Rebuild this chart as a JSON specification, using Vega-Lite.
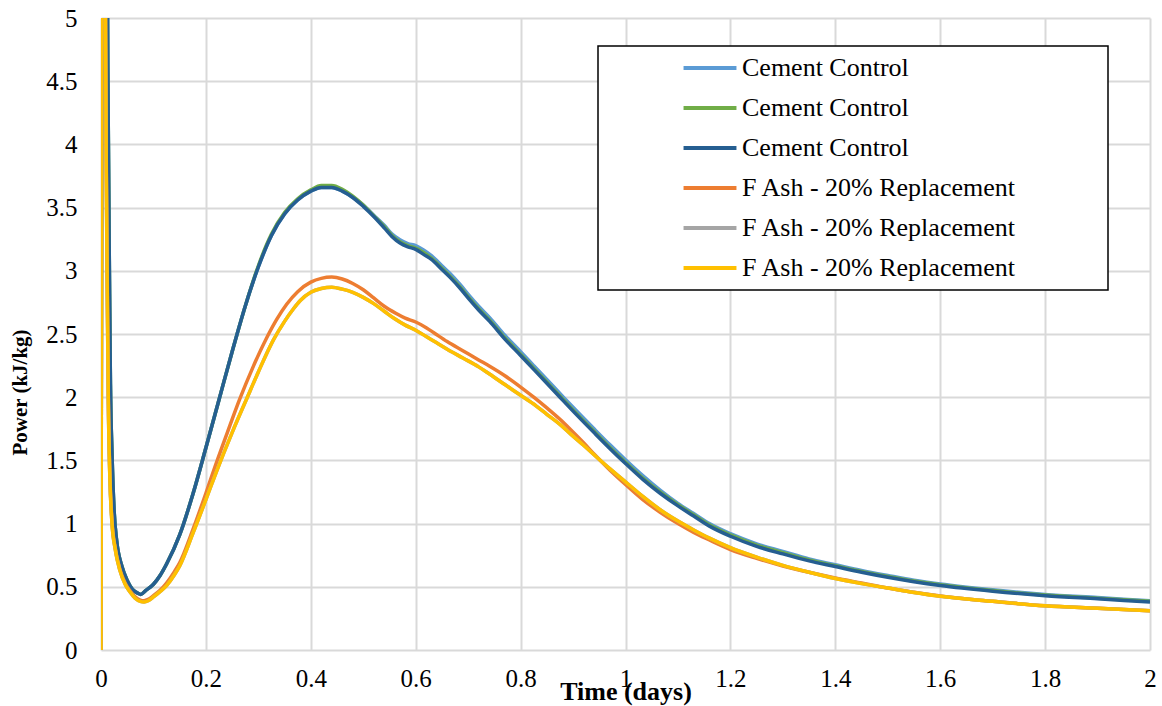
{
  "$schema": "https://vega.github.io/schema/vega-lite/v6.json",
  "width": 1049,
  "height": 632,
  "autosize": {"type": "none"},
  "padding": {"left": 101, "top": 18, "right": 12, "bottom": 56},
  "background": "white",
  "config": {
    "view": {"stroke": null},
    "font": "Liberation Serif",
    "axis": {
      "labelFont": "Liberation Serif",
      "labelFontSize": 25,
      "labelColor": "black",
      "titleFont": "Liberation Serif",
      "titleFontSize": 26,
      "titleFontWeight": "bold",
      "titleColor": "black",
      "gridColor": "#d9d9d9",
      "gridWidth": 2,
      "ticks": false,
      "tickSize": 0,
      "domain": false
    },
    "legend": {"strokeWidth": 1.5}
  },
  "data": {
    "values": [
      {"series": "Cement Control 1", "t": 0, "p": 0},
      {"series": "Cement Control 1", "t": 0.002, "p": 7},
      {"series": "Cement Control 1", "t": 0.006, "p": 9},
      {"series": "Cement Control 1", "t": 0.01, "p": 7},
      {"series": "Cement Control 1", "t": 0.013, "p": 4.6},
      {"series": "Cement Control 1", "t": 0.016, "p": 3.0},
      {"series": "Cement Control 1", "t": 0.018, "p": 2.1},
      {"series": "Cement Control 1", "t": 0.021, "p": 1.55},
      {"series": "Cement Control 1", "t": 0.025, "p": 1.1},
      {"series": "Cement Control 1", "t": 0.03, "p": 0.86},
      {"series": "Cement Control 1", "t": 0.04, "p": 0.66},
      {"series": "Cement Control 1", "t": 0.05, "p": 0.55},
      {"series": "Cement Control 1", "t": 0.06, "p": 0.48},
      {"series": "Cement Control 1", "t": 0.07, "p": 0.45},
      {"series": "Cement Control 1", "t": 0.076, "p": 0.44},
      {"series": "Cement Control 1", "t": 0.085, "p": 0.47},
      {"series": "Cement Control 1", "t": 0.1, "p": 0.52},
      {"series": "Cement Control 1", "t": 0.112, "p": 0.585},
      {"series": "Cement Control 1", "t": 0.125, "p": 0.68},
      {"series": "Cement Control 1", "t": 0.15, "p": 0.91},
      {"series": "Cement Control 1", "t": 0.175, "p": 1.23},
      {"series": "Cement Control 1", "t": 0.2, "p": 1.6},
      {"series": "Cement Control 1", "t": 0.225, "p": 1.98},
      {"series": "Cement Control 1", "t": 0.25, "p": 2.36},
      {"series": "Cement Control 1", "t": 0.275, "p": 2.72},
      {"series": "Cement Control 1", "t": 0.3, "p": 3.03},
      {"series": "Cement Control 1", "t": 0.325, "p": 3.28},
      {"series": "Cement Control 1", "t": 0.35, "p": 3.45},
      {"series": "Cement Control 1", "t": 0.375, "p": 3.56},
      {"series": "Cement Control 1", "t": 0.4, "p": 3.63},
      {"series": "Cement Control 1", "t": 0.42, "p": 3.66},
      {"series": "Cement Control 1", "t": 0.44, "p": 3.66},
      {"series": "Cement Control 1", "t": 0.46, "p": 3.63},
      {"series": "Cement Control 1", "t": 0.48, "p": 3.58},
      {"series": "Cement Control 1", "t": 0.5, "p": 3.52},
      {"series": "Cement Control 1", "t": 0.52, "p": 3.44},
      {"series": "Cement Control 1", "t": 0.54, "p": 3.36},
      {"series": "Cement Control 1", "t": 0.555, "p": 3.29},
      {"series": "Cement Control 1", "t": 0.57, "p": 3.245},
      {"series": "Cement Control 1", "t": 0.585, "p": 3.215},
      {"series": "Cement Control 1", "t": 0.6, "p": 3.2},
      {"series": "Cement Control 1", "t": 0.615, "p": 3.165},
      {"series": "Cement Control 1", "t": 0.63, "p": 3.12},
      {"series": "Cement Control 1", "t": 0.65, "p": 3.04},
      {"series": "Cement Control 1", "t": 0.665, "p": 2.98},
      {"series": "Cement Control 1", "t": 0.685, "p": 2.89},
      {"series": "Cement Control 1", "t": 0.703, "p": 2.8},
      {"series": "Cement Control 1", "t": 0.72, "p": 2.72},
      {"series": "Cement Control 1", "t": 0.741, "p": 2.63},
      {"series": "Cement Control 1", "t": 0.77, "p": 2.49},
      {"series": "Cement Control 1", "t": 0.8, "p": 2.36},
      {"series": "Cement Control 1", "t": 0.825, "p": 2.25},
      {"series": "Cement Control 1", "t": 0.85, "p": 2.14},
      {"series": "Cement Control 1", "t": 0.875, "p": 2.03},
      {"series": "Cement Control 1", "t": 0.9, "p": 1.92},
      {"series": "Cement Control 1", "t": 0.94, "p": 1.75},
      {"series": "Cement Control 1", "t": 0.97, "p": 1.625},
      {"series": "Cement Control 1", "t": 1.0, "p": 1.505},
      {"series": "Cement Control 1", "t": 1.033, "p": 1.38},
      {"series": "Cement Control 1", "t": 1.066, "p": 1.265},
      {"series": "Cement Control 1", "t": 1.1, "p": 1.16},
      {"series": "Cement Control 1", "t": 1.13, "p": 1.08},
      {"series": "Cement Control 1", "t": 1.16, "p": 1.0},
      {"series": "Cement Control 1", "t": 1.2, "p": 0.92},
      {"series": "Cement Control 1", "t": 1.25, "p": 0.84},
      {"series": "Cement Control 1", "t": 1.3, "p": 0.78},
      {"series": "Cement Control 1", "t": 1.35, "p": 0.72},
      {"series": "Cement Control 1", "t": 1.4, "p": 0.675},
      {"series": "Cement Control 1", "t": 1.45, "p": 0.63},
      {"series": "Cement Control 1", "t": 1.5, "p": 0.59},
      {"series": "Cement Control 1", "t": 1.55, "p": 0.552},
      {"series": "Cement Control 1", "t": 1.6, "p": 0.522},
      {"series": "Cement Control 1", "t": 1.7, "p": 0.476},
      {"series": "Cement Control 1", "t": 1.8, "p": 0.44},
      {"series": "Cement Control 1", "t": 1.9, "p": 0.415},
      {"series": "Cement Control 1", "t": 2.0, "p": 0.39},

      {"series": "Cement Control 2", "t": 0, "p": 0},
      {"series": "Cement Control 2", "t": 0.002, "p": 7},
      {"series": "Cement Control 2", "t": 0.006, "p": 9},
      {"series": "Cement Control 2", "t": 0.01, "p": 7},
      {"series": "Cement Control 2", "t": 0.013, "p": 4.6},
      {"series": "Cement Control 2", "t": 0.016, "p": 3.0},
      {"series": "Cement Control 2", "t": 0.018, "p": 2.1},
      {"series": "Cement Control 2", "t": 0.021, "p": 1.55},
      {"series": "Cement Control 2", "t": 0.025, "p": 1.1},
      {"series": "Cement Control 2", "t": 0.03, "p": 0.86},
      {"series": "Cement Control 2", "t": 0.04, "p": 0.66},
      {"series": "Cement Control 2", "t": 0.05, "p": 0.55},
      {"series": "Cement Control 2", "t": 0.06, "p": 0.48},
      {"series": "Cement Control 2", "t": 0.07, "p": 0.45},
      {"series": "Cement Control 2", "t": 0.076, "p": 0.44},
      {"series": "Cement Control 2", "t": 0.085, "p": 0.47},
      {"series": "Cement Control 2", "t": 0.1, "p": 0.52},
      {"series": "Cement Control 2", "t": 0.112, "p": 0.585},
      {"series": "Cement Control 2", "t": 0.125, "p": 0.68},
      {"series": "Cement Control 2", "t": 0.15, "p": 0.91},
      {"series": "Cement Control 2", "t": 0.175, "p": 1.23},
      {"series": "Cement Control 2", "t": 0.2, "p": 1.6},
      {"series": "Cement Control 2", "t": 0.225, "p": 1.98},
      {"series": "Cement Control 2", "t": 0.25, "p": 2.36},
      {"series": "Cement Control 2", "t": 0.275, "p": 2.72},
      {"series": "Cement Control 2", "t": 0.3, "p": 3.04},
      {"series": "Cement Control 2", "t": 0.325, "p": 3.29},
      {"series": "Cement Control 2", "t": 0.35, "p": 3.46},
      {"series": "Cement Control 2", "t": 0.375, "p": 3.57},
      {"series": "Cement Control 2", "t": 0.4, "p": 3.64},
      {"series": "Cement Control 2", "t": 0.42, "p": 3.675},
      {"series": "Cement Control 2", "t": 0.44, "p": 3.675},
      {"series": "Cement Control 2", "t": 0.46, "p": 3.645},
      {"series": "Cement Control 2", "t": 0.48, "p": 3.59},
      {"series": "Cement Control 2", "t": 0.5, "p": 3.52},
      {"series": "Cement Control 2", "t": 0.52, "p": 3.435},
      {"series": "Cement Control 2", "t": 0.54, "p": 3.35},
      {"series": "Cement Control 2", "t": 0.555, "p": 3.28},
      {"series": "Cement Control 2", "t": 0.57, "p": 3.23},
      {"series": "Cement Control 2", "t": 0.585, "p": 3.2},
      {"series": "Cement Control 2", "t": 0.6, "p": 3.18},
      {"series": "Cement Control 2", "t": 0.615, "p": 3.145},
      {"series": "Cement Control 2", "t": 0.63, "p": 3.1},
      {"series": "Cement Control 2", "t": 0.65, "p": 3.02},
      {"series": "Cement Control 2", "t": 0.665, "p": 2.96},
      {"series": "Cement Control 2", "t": 0.685, "p": 2.87},
      {"series": "Cement Control 2", "t": 0.703, "p": 2.78},
      {"series": "Cement Control 2", "t": 0.72, "p": 2.7},
      {"series": "Cement Control 2", "t": 0.741, "p": 2.61},
      {"series": "Cement Control 2", "t": 0.77, "p": 2.47},
      {"series": "Cement Control 2", "t": 0.8, "p": 2.34},
      {"series": "Cement Control 2", "t": 0.825, "p": 2.23},
      {"series": "Cement Control 2", "t": 0.85, "p": 2.12},
      {"series": "Cement Control 2", "t": 0.875, "p": 2.01},
      {"series": "Cement Control 2", "t": 0.9, "p": 1.9},
      {"series": "Cement Control 2", "t": 0.94, "p": 1.73},
      {"series": "Cement Control 2", "t": 0.97, "p": 1.605},
      {"series": "Cement Control 2", "t": 1.0, "p": 1.485},
      {"series": "Cement Control 2", "t": 1.033, "p": 1.36},
      {"series": "Cement Control 2", "t": 1.066, "p": 1.25},
      {"series": "Cement Control 2", "t": 1.1, "p": 1.15},
      {"series": "Cement Control 2", "t": 1.13, "p": 1.07},
      {"series": "Cement Control 2", "t": 1.16, "p": 0.99},
      {"series": "Cement Control 2", "t": 1.2, "p": 0.91},
      {"series": "Cement Control 2", "t": 1.25, "p": 0.83},
      {"series": "Cement Control 2", "t": 1.3, "p": 0.77},
      {"series": "Cement Control 2", "t": 1.35, "p": 0.712},
      {"series": "Cement Control 2", "t": 1.4, "p": 0.667},
      {"series": "Cement Control 2", "t": 1.45, "p": 0.622},
      {"series": "Cement Control 2", "t": 1.5, "p": 0.582},
      {"series": "Cement Control 2", "t": 1.55, "p": 0.546},
      {"series": "Cement Control 2", "t": 1.6, "p": 0.516},
      {"series": "Cement Control 2", "t": 1.7, "p": 0.47},
      {"series": "Cement Control 2", "t": 1.8, "p": 0.435},
      {"series": "Cement Control 2", "t": 1.9, "p": 0.41},
      {"series": "Cement Control 2", "t": 2.0, "p": 0.385},

      {"series": "Cement Control 3", "t": 0, "p": 0},
      {"series": "Cement Control 3", "t": 0.002, "p": 7},
      {"series": "Cement Control 3", "t": 0.006, "p": 9},
      {"series": "Cement Control 3", "t": 0.01, "p": 7},
      {"series": "Cement Control 3", "t": 0.013, "p": 4.6},
      {"series": "Cement Control 3", "t": 0.016, "p": 3.0},
      {"series": "Cement Control 3", "t": 0.018, "p": 2.1},
      {"series": "Cement Control 3", "t": 0.021, "p": 1.55},
      {"series": "Cement Control 3", "t": 0.025, "p": 1.1},
      {"series": "Cement Control 3", "t": 0.03, "p": 0.86},
      {"series": "Cement Control 3", "t": 0.04, "p": 0.66},
      {"series": "Cement Control 3", "t": 0.05, "p": 0.55},
      {"series": "Cement Control 3", "t": 0.06, "p": 0.48},
      {"series": "Cement Control 3", "t": 0.07, "p": 0.45},
      {"series": "Cement Control 3", "t": 0.076, "p": 0.44},
      {"series": "Cement Control 3", "t": 0.085, "p": 0.47},
      {"series": "Cement Control 3", "t": 0.1, "p": 0.52},
      {"series": "Cement Control 3", "t": 0.112, "p": 0.585},
      {"series": "Cement Control 3", "t": 0.125, "p": 0.68},
      {"series": "Cement Control 3", "t": 0.15, "p": 0.91},
      {"series": "Cement Control 3", "t": 0.175, "p": 1.23},
      {"series": "Cement Control 3", "t": 0.2, "p": 1.6},
      {"series": "Cement Control 3", "t": 0.225, "p": 1.98},
      {"series": "Cement Control 3", "t": 0.25, "p": 2.36},
      {"series": "Cement Control 3", "t": 0.275, "p": 2.72},
      {"series": "Cement Control 3", "t": 0.3, "p": 3.03},
      {"series": "Cement Control 3", "t": 0.325, "p": 3.28},
      {"series": "Cement Control 3", "t": 0.35, "p": 3.45},
      {"series": "Cement Control 3", "t": 0.375, "p": 3.56},
      {"series": "Cement Control 3", "t": 0.4, "p": 3.63},
      {"series": "Cement Control 3", "t": 0.42, "p": 3.66},
      {"series": "Cement Control 3", "t": 0.44, "p": 3.66},
      {"series": "Cement Control 3", "t": 0.46, "p": 3.63},
      {"series": "Cement Control 3", "t": 0.48, "p": 3.58},
      {"series": "Cement Control 3", "t": 0.5, "p": 3.51},
      {"series": "Cement Control 3", "t": 0.52, "p": 3.43},
      {"series": "Cement Control 3", "t": 0.54, "p": 3.34},
      {"series": "Cement Control 3", "t": 0.555, "p": 3.27},
      {"series": "Cement Control 3", "t": 0.57, "p": 3.22},
      {"series": "Cement Control 3", "t": 0.585, "p": 3.19},
      {"series": "Cement Control 3", "t": 0.6, "p": 3.17},
      {"series": "Cement Control 3", "t": 0.615, "p": 3.13},
      {"series": "Cement Control 3", "t": 0.63, "p": 3.09},
      {"series": "Cement Control 3", "t": 0.65, "p": 3.01},
      {"series": "Cement Control 3", "t": 0.665, "p": 2.95},
      {"series": "Cement Control 3", "t": 0.685, "p": 2.86},
      {"series": "Cement Control 3", "t": 0.703, "p": 2.77},
      {"series": "Cement Control 3", "t": 0.72, "p": 2.69},
      {"series": "Cement Control 3", "t": 0.741, "p": 2.6},
      {"series": "Cement Control 3", "t": 0.77, "p": 2.46},
      {"series": "Cement Control 3", "t": 0.8, "p": 2.33},
      {"series": "Cement Control 3", "t": 0.825, "p": 2.22},
      {"series": "Cement Control 3", "t": 0.85, "p": 2.11},
      {"series": "Cement Control 3", "t": 0.875, "p": 2.0},
      {"series": "Cement Control 3", "t": 0.9, "p": 1.89},
      {"series": "Cement Control 3", "t": 0.94, "p": 1.72},
      {"series": "Cement Control 3", "t": 0.97, "p": 1.595},
      {"series": "Cement Control 3", "t": 1.0, "p": 1.475},
      {"series": "Cement Control 3", "t": 1.033, "p": 1.35},
      {"series": "Cement Control 3", "t": 1.066, "p": 1.24},
      {"series": "Cement Control 3", "t": 1.1, "p": 1.14},
      {"series": "Cement Control 3", "t": 1.13, "p": 1.06},
      {"series": "Cement Control 3", "t": 1.16, "p": 0.98},
      {"series": "Cement Control 3", "t": 1.2, "p": 0.9},
      {"series": "Cement Control 3", "t": 1.25, "p": 0.82},
      {"series": "Cement Control 3", "t": 1.3, "p": 0.76},
      {"series": "Cement Control 3", "t": 1.35, "p": 0.705},
      {"series": "Cement Control 3", "t": 1.4, "p": 0.66},
      {"series": "Cement Control 3", "t": 1.45, "p": 0.615},
      {"series": "Cement Control 3", "t": 1.5, "p": 0.575},
      {"series": "Cement Control 3", "t": 1.55, "p": 0.54},
      {"series": "Cement Control 3", "t": 1.6, "p": 0.51},
      {"series": "Cement Control 3", "t": 1.7, "p": 0.465},
      {"series": "Cement Control 3", "t": 1.8, "p": 0.43},
      {"series": "Cement Control 3", "t": 1.9, "p": 0.405},
      {"series": "Cement Control 3", "t": 2.0, "p": 0.38},

      {"series": "F Ash - 20% Replacement 1", "t": 0, "p": 0},
      {"series": "F Ash - 20% Replacement 1", "t": 0.002, "p": 7},
      {"series": "F Ash - 20% Replacement 1", "t": 0.005, "p": 8},
      {"series": "F Ash - 20% Replacement 1", "t": 0.008, "p": 5.5},
      {"series": "F Ash - 20% Replacement 1", "t": 0.01, "p": 3.9},
      {"series": "F Ash - 20% Replacement 1", "t": 0.012, "p": 2.9},
      {"series": "F Ash - 20% Replacement 1", "t": 0.014, "p": 2.0},
      {"series": "F Ash - 20% Replacement 1", "t": 0.017, "p": 1.38},
      {"series": "F Ash - 20% Replacement 1", "t": 0.021, "p": 1.02},
      {"series": "F Ash - 20% Replacement 1", "t": 0.027, "p": 0.81},
      {"series": "F Ash - 20% Replacement 1", "t": 0.036, "p": 0.64},
      {"series": "F Ash - 20% Replacement 1", "t": 0.046, "p": 0.53},
      {"series": "F Ash - 20% Replacement 1", "t": 0.055, "p": 0.47},
      {"series": "F Ash - 20% Replacement 1", "t": 0.065, "p": 0.42},
      {"series": "F Ash - 20% Replacement 1", "t": 0.075, "p": 0.395},
      {"series": "F Ash - 20% Replacement 1", "t": 0.082, "p": 0.39},
      {"series": "F Ash - 20% Replacement 1", "t": 0.09, "p": 0.4},
      {"series": "F Ash - 20% Replacement 1", "t": 0.1, "p": 0.43},
      {"series": "F Ash - 20% Replacement 1", "t": 0.112, "p": 0.47},
      {"series": "F Ash - 20% Replacement 1", "t": 0.125, "p": 0.53},
      {"series": "F Ash - 20% Replacement 1", "t": 0.14, "p": 0.62},
      {"series": "F Ash - 20% Replacement 1", "t": 0.15, "p": 0.69},
      {"series": "F Ash - 20% Replacement 1", "t": 0.175, "p": 0.95},
      {"series": "F Ash - 20% Replacement 1", "t": 0.2, "p": 1.24},
      {"series": "F Ash - 20% Replacement 1", "t": 0.214, "p": 1.41},
      {"series": "F Ash - 20% Replacement 1", "t": 0.24, "p": 1.71},
      {"series": "F Ash - 20% Replacement 1", "t": 0.265, "p": 1.99},
      {"series": "F Ash - 20% Replacement 1", "t": 0.29, "p": 2.24},
      {"series": "F Ash - 20% Replacement 1", "t": 0.316, "p": 2.47},
      {"series": "F Ash - 20% Replacement 1", "t": 0.335, "p": 2.615},
      {"series": "F Ash - 20% Replacement 1", "t": 0.354, "p": 2.735},
      {"series": "F Ash - 20% Replacement 1", "t": 0.375, "p": 2.835},
      {"series": "F Ash - 20% Replacement 1", "t": 0.4, "p": 2.91},
      {"series": "F Ash - 20% Replacement 1", "t": 0.42, "p": 2.94},
      {"series": "F Ash - 20% Replacement 1", "t": 0.44, "p": 2.95},
      {"series": "F Ash - 20% Replacement 1", "t": 0.46, "p": 2.935},
      {"series": "F Ash - 20% Replacement 1", "t": 0.48, "p": 2.9},
      {"series": "F Ash - 20% Replacement 1", "t": 0.5, "p": 2.85},
      {"series": "F Ash - 20% Replacement 1", "t": 0.52, "p": 2.785},
      {"series": "F Ash - 20% Replacement 1", "t": 0.54, "p": 2.72},
      {"series": "F Ash - 20% Replacement 1", "t": 0.564, "p": 2.66},
      {"series": "F Ash - 20% Replacement 1", "t": 0.58, "p": 2.625},
      {"series": "F Ash - 20% Replacement 1", "t": 0.6, "p": 2.595},
      {"series": "F Ash - 20% Replacement 1", "t": 0.62, "p": 2.55},
      {"series": "F Ash - 20% Replacement 1", "t": 0.638, "p": 2.5},
      {"series": "F Ash - 20% Replacement 1", "t": 0.66, "p": 2.44},
      {"series": "F Ash - 20% Replacement 1", "t": 0.689, "p": 2.37},
      {"series": "F Ash - 20% Replacement 1", "t": 0.72, "p": 2.295},
      {"series": "F Ash - 20% Replacement 1", "t": 0.741, "p": 2.245},
      {"series": "F Ash - 20% Replacement 1", "t": 0.77, "p": 2.17},
      {"series": "F Ash - 20% Replacement 1", "t": 0.8, "p": 2.08},
      {"series": "F Ash - 20% Replacement 1", "t": 0.825, "p": 2.0},
      {"series": "F Ash - 20% Replacement 1", "t": 0.85, "p": 1.915},
      {"series": "F Ash - 20% Replacement 1", "t": 0.875, "p": 1.825},
      {"series": "F Ash - 20% Replacement 1", "t": 0.895, "p": 1.745},
      {"series": "F Ash - 20% Replacement 1", "t": 0.92, "p": 1.64},
      {"series": "F Ash - 20% Replacement 1", "t": 0.94, "p": 1.55},
      {"series": "F Ash - 20% Replacement 1", "t": 0.97, "p": 1.425},
      {"series": "F Ash - 20% Replacement 1", "t": 1.0, "p": 1.31},
      {"series": "F Ash - 20% Replacement 1", "t": 1.033, "p": 1.19},
      {"series": "F Ash - 20% Replacement 1", "t": 1.066, "p": 1.09},
      {"series": "F Ash - 20% Replacement 1", "t": 1.1, "p": 1.0},
      {"series": "F Ash - 20% Replacement 1", "t": 1.13, "p": 0.93},
      {"series": "F Ash - 20% Replacement 1", "t": 1.16, "p": 0.87},
      {"series": "F Ash - 20% Replacement 1", "t": 1.2, "p": 0.795},
      {"series": "F Ash - 20% Replacement 1", "t": 1.25, "p": 0.725},
      {"series": "F Ash - 20% Replacement 1", "t": 1.3, "p": 0.665},
      {"series": "F Ash - 20% Replacement 1", "t": 1.35, "p": 0.615},
      {"series": "F Ash - 20% Replacement 1", "t": 1.4, "p": 0.57},
      {"series": "F Ash - 20% Replacement 1", "t": 1.45, "p": 0.53},
      {"series": "F Ash - 20% Replacement 1", "t": 1.5, "p": 0.49},
      {"series": "F Ash - 20% Replacement 1", "t": 1.55, "p": 0.457},
      {"series": "F Ash - 20% Replacement 1", "t": 1.6, "p": 0.427},
      {"series": "F Ash - 20% Replacement 1", "t": 1.7, "p": 0.385},
      {"series": "F Ash - 20% Replacement 1", "t": 1.8, "p": 0.35},
      {"series": "F Ash - 20% Replacement 1", "t": 1.9, "p": 0.33},
      {"series": "F Ash - 20% Replacement 1", "t": 2.0, "p": 0.31},

      {"series": "F Ash - 20% Replacement 2", "t": 0, "p": 0},
      {"series": "F Ash - 20% Replacement 2", "t": 0.002, "p": 7},
      {"series": "F Ash - 20% Replacement 2", "t": 0.005, "p": 8},
      {"series": "F Ash - 20% Replacement 2", "t": 0.008, "p": 5.5},
      {"series": "F Ash - 20% Replacement 2", "t": 0.01, "p": 3.8},
      {"series": "F Ash - 20% Replacement 2", "t": 0.012, "p": 2.8},
      {"series": "F Ash - 20% Replacement 2", "t": 0.014, "p": 1.95},
      {"series": "F Ash - 20% Replacement 2", "t": 0.017, "p": 1.35},
      {"series": "F Ash - 20% Replacement 2", "t": 0.021, "p": 1.0},
      {"series": "F Ash - 20% Replacement 2", "t": 0.027, "p": 0.8},
      {"series": "F Ash - 20% Replacement 2", "t": 0.036, "p": 0.63},
      {"series": "F Ash - 20% Replacement 2", "t": 0.046, "p": 0.52},
      {"series": "F Ash - 20% Replacement 2", "t": 0.055, "p": 0.46},
      {"series": "F Ash - 20% Replacement 2", "t": 0.065, "p": 0.41},
      {"series": "F Ash - 20% Replacement 2", "t": 0.075, "p": 0.385},
      {"series": "F Ash - 20% Replacement 2", "t": 0.082, "p": 0.38},
      {"series": "F Ash - 20% Replacement 2", "t": 0.09, "p": 0.39},
      {"series": "F Ash - 20% Replacement 2", "t": 0.1, "p": 0.42},
      {"series": "F Ash - 20% Replacement 2", "t": 0.112, "p": 0.46},
      {"series": "F Ash - 20% Replacement 2", "t": 0.125, "p": 0.51},
      {"series": "F Ash - 20% Replacement 2", "t": 0.14, "p": 0.595},
      {"series": "F Ash - 20% Replacement 2", "t": 0.15, "p": 0.665},
      {"series": "F Ash - 20% Replacement 2", "t": 0.175, "p": 0.92},
      {"series": "F Ash - 20% Replacement 2", "t": 0.2, "p": 1.19},
      {"series": "F Ash - 20% Replacement 2", "t": 0.22, "p": 1.41},
      {"series": "F Ash - 20% Replacement 2", "t": 0.25, "p": 1.72},
      {"series": "F Ash - 20% Replacement 2", "t": 0.278, "p": 1.99},
      {"series": "F Ash - 20% Replacement 2", "t": 0.3, "p": 2.2},
      {"series": "F Ash - 20% Replacement 2", "t": 0.329, "p": 2.455},
      {"series": "F Ash - 20% Replacement 2", "t": 0.35, "p": 2.6},
      {"series": "F Ash - 20% Replacement 2", "t": 0.367, "p": 2.7},
      {"series": "F Ash - 20% Replacement 2", "t": 0.38, "p": 2.765},
      {"series": "F Ash - 20% Replacement 2", "t": 0.4, "p": 2.83},
      {"series": "F Ash - 20% Replacement 2", "t": 0.42, "p": 2.86},
      {"series": "F Ash - 20% Replacement 2", "t": 0.44, "p": 2.87},
      {"series": "F Ash - 20% Replacement 2", "t": 0.46, "p": 2.855},
      {"series": "F Ash - 20% Replacement 2", "t": 0.48, "p": 2.83},
      {"series": "F Ash - 20% Replacement 2", "t": 0.5, "p": 2.79},
      {"series": "F Ash - 20% Replacement 2", "t": 0.52, "p": 2.74},
      {"series": "F Ash - 20% Replacement 2", "t": 0.54, "p": 2.68},
      {"series": "F Ash - 20% Replacement 2", "t": 0.56, "p": 2.62},
      {"series": "F Ash - 20% Replacement 2", "t": 0.58, "p": 2.57},
      {"series": "F Ash - 20% Replacement 2", "t": 0.6, "p": 2.53},
      {"series": "F Ash - 20% Replacement 2", "t": 0.62, "p": 2.48},
      {"series": "F Ash - 20% Replacement 2", "t": 0.64, "p": 2.43},
      {"series": "F Ash - 20% Replacement 2", "t": 0.66, "p": 2.38},
      {"series": "F Ash - 20% Replacement 2", "t": 0.69, "p": 2.31},
      {"series": "F Ash - 20% Replacement 2", "t": 0.72, "p": 2.24},
      {"series": "F Ash - 20% Replacement 2", "t": 0.74, "p": 2.185},
      {"series": "F Ash - 20% Replacement 2", "t": 0.77, "p": 2.1},
      {"series": "F Ash - 20% Replacement 2", "t": 0.8, "p": 2.015},
      {"series": "F Ash - 20% Replacement 2", "t": 0.83, "p": 1.93},
      {"series": "F Ash - 20% Replacement 2", "t": 0.85, "p": 1.865},
      {"series": "F Ash - 20% Replacement 2", "t": 0.875, "p": 1.785},
      {"series": "F Ash - 20% Replacement 2", "t": 0.895, "p": 1.71},
      {"series": "F Ash - 20% Replacement 2", "t": 0.92, "p": 1.62},
      {"series": "F Ash - 20% Replacement 2", "t": 0.94, "p": 1.545},
      {"series": "F Ash - 20% Replacement 2", "t": 0.97, "p": 1.435},
      {"series": "F Ash - 20% Replacement 2", "t": 1.0, "p": 1.33},
      {"series": "F Ash - 20% Replacement 2", "t": 1.033, "p": 1.215},
      {"series": "F Ash - 20% Replacement 2", "t": 1.066, "p": 1.11},
      {"series": "F Ash - 20% Replacement 2", "t": 1.1, "p": 1.02},
      {"series": "F Ash - 20% Replacement 2", "t": 1.13, "p": 0.95},
      {"series": "F Ash - 20% Replacement 2", "t": 1.16, "p": 0.885},
      {"series": "F Ash - 20% Replacement 2", "t": 1.2, "p": 0.81},
      {"series": "F Ash - 20% Replacement 2", "t": 1.25, "p": 0.735},
      {"series": "F Ash - 20% Replacement 2", "t": 1.3, "p": 0.67},
      {"series": "F Ash - 20% Replacement 2", "t": 1.35, "p": 0.615},
      {"series": "F Ash - 20% Replacement 2", "t": 1.4, "p": 0.565},
      {"series": "F Ash - 20% Replacement 2", "t": 1.45, "p": 0.525},
      {"series": "F Ash - 20% Replacement 2", "t": 1.5, "p": 0.49},
      {"series": "F Ash - 20% Replacement 2", "t": 1.55, "p": 0.455},
      {"series": "F Ash - 20% Replacement 2", "t": 1.6, "p": 0.425},
      {"series": "F Ash - 20% Replacement 2", "t": 1.7, "p": 0.385},
      {"series": "F Ash - 20% Replacement 2", "t": 1.8, "p": 0.35},
      {"series": "F Ash - 20% Replacement 2", "t": 1.9, "p": 0.33},
      {"series": "F Ash - 20% Replacement 2", "t": 2.0, "p": 0.31},

      {"series": "F Ash - 20% Replacement 3", "t": 0, "p": 0},
      {"series": "F Ash - 20% Replacement 3", "t": 0.002, "p": 7},
      {"series": "F Ash - 20% Replacement 3", "t": 0.005, "p": 8},
      {"series": "F Ash - 20% Replacement 3", "t": 0.008, "p": 5.5},
      {"series": "F Ash - 20% Replacement 3", "t": 0.01, "p": 3.8},
      {"series": "F Ash - 20% Replacement 3", "t": 0.012, "p": 2.8},
      {"series": "F Ash - 20% Replacement 3", "t": 0.014, "p": 1.95},
      {"series": "F Ash - 20% Replacement 3", "t": 0.017, "p": 1.35},
      {"series": "F Ash - 20% Replacement 3", "t": 0.021, "p": 1.0},
      {"series": "F Ash - 20% Replacement 3", "t": 0.027, "p": 0.8},
      {"series": "F Ash - 20% Replacement 3", "t": 0.036, "p": 0.63},
      {"series": "F Ash - 20% Replacement 3", "t": 0.046, "p": 0.52},
      {"series": "F Ash - 20% Replacement 3", "t": 0.055, "p": 0.46},
      {"series": "F Ash - 20% Replacement 3", "t": 0.065, "p": 0.41},
      {"series": "F Ash - 20% Replacement 3", "t": 0.075, "p": 0.385},
      {"series": "F Ash - 20% Replacement 3", "t": 0.082, "p": 0.38},
      {"series": "F Ash - 20% Replacement 3", "t": 0.09, "p": 0.39},
      {"series": "F Ash - 20% Replacement 3", "t": 0.1, "p": 0.42},
      {"series": "F Ash - 20% Replacement 3", "t": 0.112, "p": 0.46},
      {"series": "F Ash - 20% Replacement 3", "t": 0.125, "p": 0.51},
      {"series": "F Ash - 20% Replacement 3", "t": 0.14, "p": 0.595},
      {"series": "F Ash - 20% Replacement 3", "t": 0.15, "p": 0.665},
      {"series": "F Ash - 20% Replacement 3", "t": 0.175, "p": 0.92},
      {"series": "F Ash - 20% Replacement 3", "t": 0.2, "p": 1.19},
      {"series": "F Ash - 20% Replacement 3", "t": 0.22, "p": 1.41},
      {"series": "F Ash - 20% Replacement 3", "t": 0.25, "p": 1.72},
      {"series": "F Ash - 20% Replacement 3", "t": 0.278, "p": 1.99},
      {"series": "F Ash - 20% Replacement 3", "t": 0.3, "p": 2.2},
      {"series": "F Ash - 20% Replacement 3", "t": 0.329, "p": 2.455},
      {"series": "F Ash - 20% Replacement 3", "t": 0.35, "p": 2.6},
      {"series": "F Ash - 20% Replacement 3", "t": 0.367, "p": 2.7},
      {"series": "F Ash - 20% Replacement 3", "t": 0.38, "p": 2.765},
      {"series": "F Ash - 20% Replacement 3", "t": 0.4, "p": 2.83},
      {"series": "F Ash - 20% Replacement 3", "t": 0.42, "p": 2.86},
      {"series": "F Ash - 20% Replacement 3", "t": 0.44, "p": 2.87},
      {"series": "F Ash - 20% Replacement 3", "t": 0.46, "p": 2.855},
      {"series": "F Ash - 20% Replacement 3", "t": 0.48, "p": 2.83},
      {"series": "F Ash - 20% Replacement 3", "t": 0.5, "p": 2.79},
      {"series": "F Ash - 20% Replacement 3", "t": 0.52, "p": 2.74},
      {"series": "F Ash - 20% Replacement 3", "t": 0.54, "p": 2.68},
      {"series": "F Ash - 20% Replacement 3", "t": 0.56, "p": 2.62},
      {"series": "F Ash - 20% Replacement 3", "t": 0.58, "p": 2.57},
      {"series": "F Ash - 20% Replacement 3", "t": 0.6, "p": 2.53},
      {"series": "F Ash - 20% Replacement 3", "t": 0.62, "p": 2.48},
      {"series": "F Ash - 20% Replacement 3", "t": 0.64, "p": 2.43},
      {"series": "F Ash - 20% Replacement 3", "t": 0.66, "p": 2.38},
      {"series": "F Ash - 20% Replacement 3", "t": 0.69, "p": 2.31},
      {"series": "F Ash - 20% Replacement 3", "t": 0.72, "p": 2.24},
      {"series": "F Ash - 20% Replacement 3", "t": 0.74, "p": 2.185},
      {"series": "F Ash - 20% Replacement 3", "t": 0.77, "p": 2.1},
      {"series": "F Ash - 20% Replacement 3", "t": 0.8, "p": 2.015},
      {"series": "F Ash - 20% Replacement 3", "t": 0.83, "p": 1.93},
      {"series": "F Ash - 20% Replacement 3", "t": 0.85, "p": 1.865},
      {"series": "F Ash - 20% Replacement 3", "t": 0.875, "p": 1.785},
      {"series": "F Ash - 20% Replacement 3", "t": 0.895, "p": 1.71},
      {"series": "F Ash - 20% Replacement 3", "t": 0.92, "p": 1.62},
      {"series": "F Ash - 20% Replacement 3", "t": 0.94, "p": 1.545},
      {"series": "F Ash - 20% Replacement 3", "t": 0.97, "p": 1.435},
      {"series": "F Ash - 20% Replacement 3", "t": 1.0, "p": 1.33},
      {"series": "F Ash - 20% Replacement 3", "t": 1.033, "p": 1.215},
      {"series": "F Ash - 20% Replacement 3", "t": 1.066, "p": 1.11},
      {"series": "F Ash - 20% Replacement 3", "t": 1.1, "p": 1.02},
      {"series": "F Ash - 20% Replacement 3", "t": 1.13, "p": 0.95},
      {"series": "F Ash - 20% Replacement 3", "t": 1.16, "p": 0.885},
      {"series": "F Ash - 20% Replacement 3", "t": 1.2, "p": 0.81},
      {"series": "F Ash - 20% Replacement 3", "t": 1.25, "p": 0.735},
      {"series": "F Ash - 20% Replacement 3", "t": 1.3, "p": 0.67},
      {"series": "F Ash - 20% Replacement 3", "t": 1.35, "p": 0.615},
      {"series": "F Ash - 20% Replacement 3", "t": 1.4, "p": 0.565},
      {"series": "F Ash - 20% Replacement 3", "t": 1.45, "p": 0.525},
      {"series": "F Ash - 20% Replacement 3", "t": 1.5, "p": 0.49},
      {"series": "F Ash - 20% Replacement 3", "t": 1.55, "p": 0.455},
      {"series": "F Ash - 20% Replacement 3", "t": 1.6, "p": 0.425},
      {"series": "F Ash - 20% Replacement 3", "t": 1.7, "p": 0.385},
      {"series": "F Ash - 20% Replacement 3", "t": 1.8, "p": 0.35},
      {"series": "F Ash - 20% Replacement 3", "t": 1.9, "p": 0.33},
      {"series": "F Ash - 20% Replacement 3", "t": 2.0, "p": 0.31}
    ]
  },
  "mark": {"type": "line", "interpolate": "monotone", "strokeWidth": 3.5, "clip": true},
  "encoding": {
    "x": {
      "field": "t",
      "type": "quantitative",
      "scale": {"domain": [0, 2], "nice": false, "zero": false},
      "axis": {
        "title": "Time (days)",
        "values": [0, 0.2, 0.4, 0.6, 0.8, 1, 1.2, 1.4, 1.6, 1.8, 2],
        "format": "~g",
        "labelPadding": 16,
        "labelFlush": false,
        "labelOverlap": false,
        "titleBaseline": "top",
        "titleY": 28
      }
    },
    "y": {
      "field": "p",
      "type": "quantitative",
      "scale": {"domain": [0, 5], "nice": false},
      "axis": {
        "title": "Power (kJ/kg)",
        "values": [0, 0.5, 1, 1.5, 2, 2.5, 3, 3.5, 4, 4.5, 5],
        "format": "~g",
        "labelPadding": 24,
        "labelFlush": false,
        "labelOverlap": false,
        "titleFontSize": 21,
        "titleAngle": -90,
        "titleAlign": "center",
        "titleBaseline": "middle",
        "titleX": -81,
        "titleY": 374
      }
    },
    "color": {
      "field": "series",
      "type": "nominal",
      "scale": {
        "domain": [
          "Cement Control 1",
          "Cement Control 2",
          "Cement Control 3",
          "F Ash - 20% Replacement 1",
          "F Ash - 20% Replacement 2",
          "F Ash - 20% Replacement 3"
        ],
        "range": ["#5B9BD5", "#70AD47", "#255E91", "#ED7D31", "#A5A5A5", "#FFC000"]
      },
      "legend": {
        "title": null,
        "orient": "none",
        "legendX": 497,
        "legendY": 28,
        "padding": 9,
        "strokeColor": "black",
        "fillColor": "white",
        "symbolType": "M-2.52,0H2.52",
        "symbolSize": 441,
        "symbolStrokeWidth": 4,
        "symbolOffset": 90,
        "labelFont": "Liberation Serif",
        "labelFontSize": 26,
        "labelColor": "black",
        "labelOffset": 19,
        "labelLimit": 600,
        "rowPadding": 14,
        "labelExpr": "slice(datum.label, 0, -2) + '\u00a0\u2800\u2800\u2800\u2800'"
      }
    }
  }
}
